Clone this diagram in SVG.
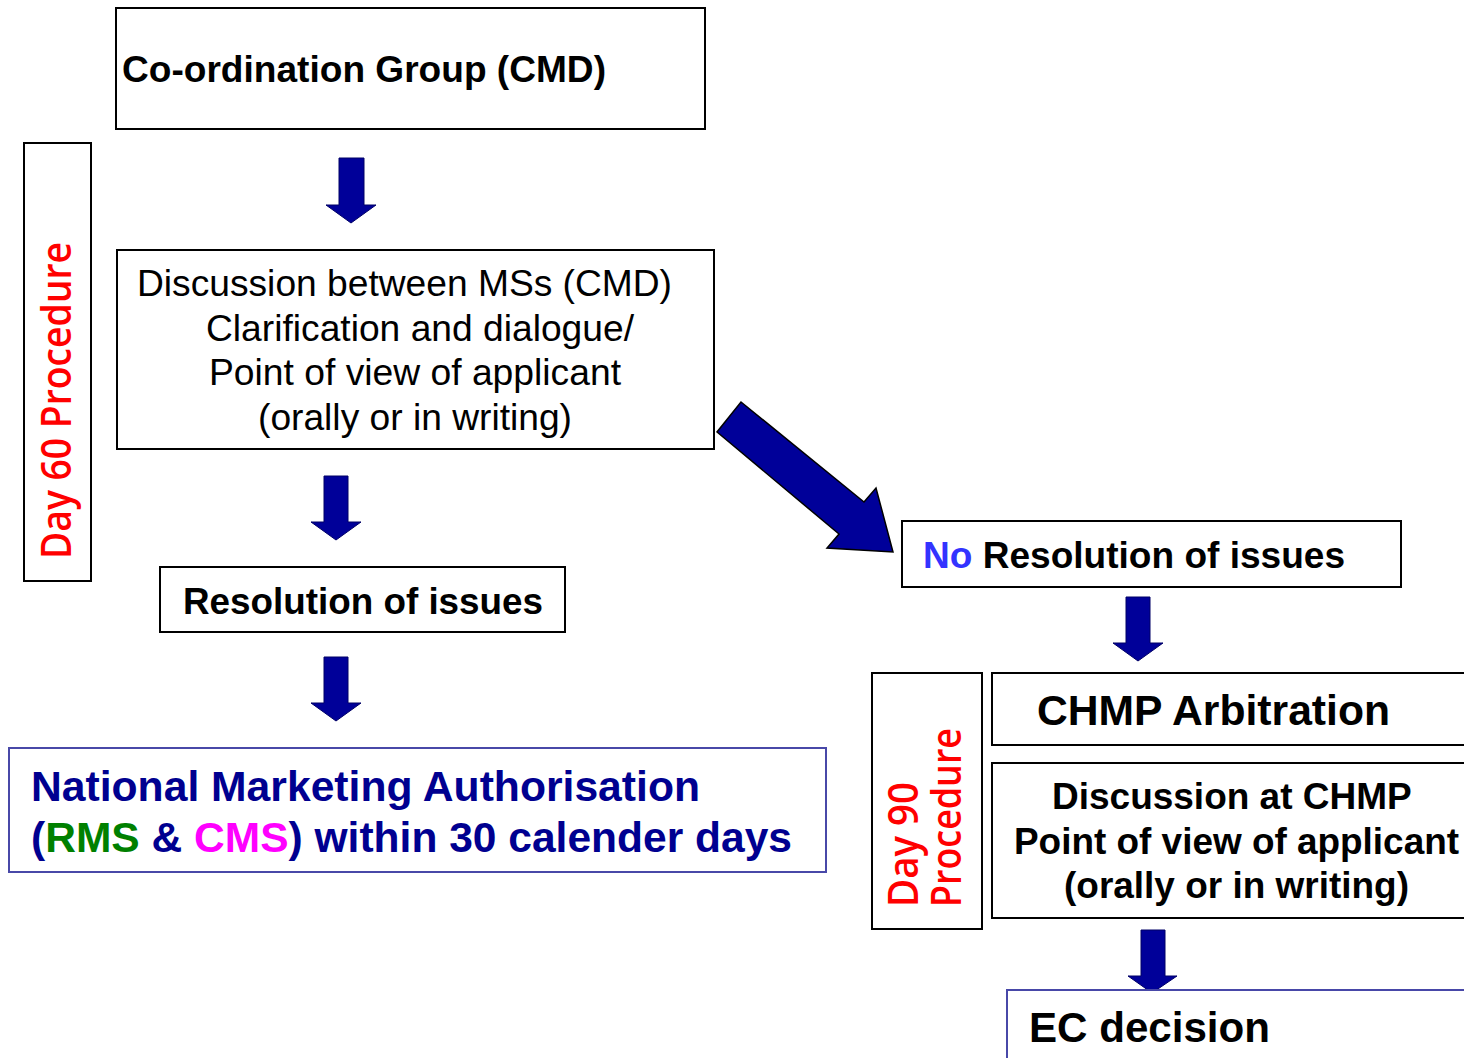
<svg xmlns="http://www.w3.org/2000/svg" width="1464" height="1058" viewBox="0 0 1464 1058">
<style>
.box{fill:#fff;stroke:#000;stroke-width:2}
.bbox{fill:#fff;stroke:#4848a8;stroke-width:2}
.arr{fill:#000099;stroke:#000066;stroke-width:1}
.t{font-family:"Liberation Sans",Arial,sans-serif;fill:#000}
.b{font-weight:bold}
.r{font-family:"Open Sans","DejaVu Sans",sans-serif;fill:#ff0000;font-size:42px;font-weight:600}
.nv{fill:#000090}
</style>
<rect width="1464" height="1058" fill="#fff"/>
<g id="connectors">
<polygon class="arr" points="339,158 364,158 364,205 376,205 351,223 326,205 339,205"/>
<polygon class="arr" points="324,476 348,476 348,522 361,522 336,540 311,522 324,522"/>
<polygon class="arr" points="324,657 348,657 348,703 361,703 336,721 311,703 324,703"/>
<polygon class="arr" style="stroke:#000;stroke-width:1.5" points="741,402 864,502 876,488 893,552 827,548 839,534 717,432"/>
<polygon class="arr" points="1126,597 1150,597 1150,643 1163,643 1138,661 1113,643 1126,643"/>
<polygon class="arr" points="1141,930 1165,930 1165,976 1177,976 1152,993 1128,976 1141,976"/>
</g>
<g id="coordination">
<rect class="box" x="116" y="8" width="589" height="121"/>
<text class="t b" x="122" y="82" font-size="37" textLength="484" lengthAdjust="spacingAndGlyphs">Co-ordination Group (CMD)</text>
</g>
<g id="day60">
<rect class="box" x="24" y="143" width="67" height="438"/>
<text class="r" transform="translate(71,559) rotate(-90)" textLength="317" lengthAdjust="spacingAndGlyphs">Day 60 Procedure</text>
</g>
<g id="discussion">
<rect class="box" x="117" y="250" width="597" height="199"/>
<text class="t" font-size="37">
<tspan x="137" y="296" textLength="535" lengthAdjust="spacingAndGlyphs">Discussion between MSs (CMD)</tspan>
<tspan x="206" y="341" textLength="428" lengthAdjust="spacingAndGlyphs">Clarification and dialogue/</tspan>
<tspan x="209" y="385" textLength="412" lengthAdjust="spacingAndGlyphs">Point of view of applicant</tspan>
<tspan x="258" y="430" textLength="314" lengthAdjust="spacingAndGlyphs">(orally or in writing)</tspan>
</text>
</g>
<g id="resolution">
<rect class="box" x="160" y="567" width="405" height="65"/>
<text class="t b" x="183" y="614" font-size="37" textLength="360" lengthAdjust="spacingAndGlyphs">Resolution of issues</text>
</g>
<g id="nma">
<rect class="bbox" x="9" y="748" width="817" height="124"/>
<text class="t b nv" x="31" y="801" font-size="42" textLength="669" lengthAdjust="spacingAndGlyphs">National Marketing Authorisation</text>
<text class="t b nv" x="31" y="852" font-size="42" textLength="761" lengthAdjust="spacingAndGlyphs">(<tspan fill="#008000">RMS</tspan> &amp; <tspan fill="#ff00ff">CMS</tspan>) within 30 calender days</text>
</g>
<g id="noresolution">
<rect class="box" x="902" y="521" width="499" height="66"/>
<text class="t b" x="923" y="568" font-size="37" textLength="422" lengthAdjust="spacingAndGlyphs"><tspan fill="#3333ff">No</tspan> Resolution of issues</text>
</g>
<g id="day90">
<rect class="box" x="872" y="673" width="110" height="256"/>
<text class="r" transform="translate(918,907) rotate(-90)" textLength="125" lengthAdjust="spacingAndGlyphs">Day 90</text>
<text class="r" transform="translate(961,907) rotate(-90)" textLength="179" lengthAdjust="spacingAndGlyphs">Procedure</text>
</g>
<g id="chmp">
<rect class="box" x="992" y="673" width="480" height="72"/>
<text class="t b" x="1037" y="725" font-size="42" textLength="353" lengthAdjust="spacingAndGlyphs">CHMP Arbitration</text>
</g>
<g id="chmpdiscussion">
<rect class="box" x="992" y="763" width="480" height="155"/>
<text class="t b" font-size="37">
<tspan x="1052" y="809" textLength="359" lengthAdjust="spacingAndGlyphs">Discussion at CHMP</tspan>
<tspan x="1014" y="854" textLength="445" lengthAdjust="spacingAndGlyphs">Point of view of applicant</tspan>
<tspan x="1064" y="898" textLength="345" lengthAdjust="spacingAndGlyphs">(orally or in writing)</tspan>
</text>
</g>
<g id="ecdecision">
<rect class="bbox" x="1007" y="990" width="470" height="80"/>
<text class="t b" x="1029" y="1042" font-size="42" textLength="241" lengthAdjust="spacingAndGlyphs">EC decision</text>
</g>
</svg>
